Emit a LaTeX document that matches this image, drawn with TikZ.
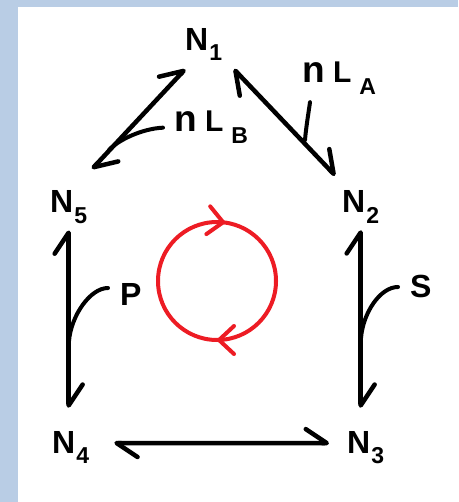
\documentclass[tikz,border=0pt]{standalone}
\usepackage{fontspec}
\setmainfont{Liberation Sans}
\usepackage{tikz}
\usetikzlibrary{arrows.meta, decorations.markings}

\definecolor{frameblue}{RGB}{185,205,229}
\definecolor{loopred}{RGB}{237,28,36}

\newcommand{\lowsub}[1]{\kern1pt\raisebox{-10pt}{\fontsize{23}{23}\selectfont #1}}
\newcommand{\labsub}[1]{\kern8pt\raisebox{-12pt}{\fontsize{23}{23}\selectfont #1}}
\newcommand{\bign}{{\fontsize{37}{37}\selectfont n}}

\begin{document}
\begin{tikzpicture}[x=1pt, y=-1pt,
    vertex/.style={anchor=base west, inner sep=0pt, font=\bfseries\fontsize{32}{32}\selectfont},
    tag/.style={anchor=base west, inner sep=0pt, font=\bfseries\fontsize{30}{30}\selectfont},
    link/.style={line width=4.5pt, line cap=round,
        {Straight Barb[left, length=21pt, width=28pt, round]}-{Straight Barb[left, length=21pt, width=28pt, round]}},
    lead/.style={line width=4pt, line cap=round},
    flow/.style={draw=loopred, line width=4pt, postaction={decorate}, decoration={markings,
        mark=at position 0.228 with {\arrowreversed{Straight Barb[length=15pt, width=28pt, round]}},
        mark=at position 0.75 with {\arrowreversed{Straight Barb[length=15pt, width=28pt, round]}}}}]
    \useasboundingbox (0,0) rectangle (458,502);
    \fill [frameblue] (0,0) rectangle (18,502);
    \fill [frameblue] (0,0) rectangle (458,7);

    % the five N
    \node [vertex] (n1) at (185,51) {N\lowsub{1}};
    \node [vertex] (n2) at (342,213) {N\lowsub{2}};
    \node [vertex] (n3) at (347,453) {N\lowsub{3}};
    \node [vertex] (n4) at (52,453) {N\lowsub{4}};
    \node [vertex] (n5) at (50,213) {N\lowsub{5}};

    % labels of the links
    \node [tag] (lA) at (302,83) {\bign\ L\labsub{A}};
    \node [tag] (lB) at (174,132) {\bign\ L\labsub{B}};
    \node [vertex] (p) at (120,305) {P};
    \node [vertex] (s) at (410,297) {S};

    \draw [link, shorten <=30pt, shorten >=11pt] ([xshift=3pt]n5.north) -- ([xshift=-11pt]n1.south);
    \draw [link, shorten <=11pt, shorten >=21pt] ([xshift=4pt]n1.south east) -- ([xshift=-11pt]n2.north);
    \draw [link, shorten <=7pt, shorten >=23pt] (n2.south) -- ([xshift=-5pt]n3.north);
    \draw [link, shorten <=25pt, shorten >=18pt] ([yshift=4pt]n4.east) -- ([yshift=4pt]n3.west);
    \draw [link, shorten <=7pt, shorten >=23pt] (n5.south) -- ([xshift=-2pt]n4.north);

    % leaders from the labels
    \coordinate (fA) at (305,140);
    \coordinate (fB) at (109,150);
    \coordinate (fP) at (69,341);
    \coordinate (fS) at (361,338);
    \draw [lead] ([shift={(8,7)}]lA.south west) .. controls +(-2,14) and +(1,-12) .. (fA);
    \draw [lead] ([shift={(-11,0)}]lB.west) .. controls +(-22,1) and +(8,-9) .. (fB);
    \draw [lead] ([shift={(-12,-6)}]p.west) .. controls +(-18,0) and +(2,-25) .. (fP);
    \draw [lead] ([shift={(-12,1)}]s.west) .. controls +(-18,0) and +(2,-25) .. (fS);

    % the red cycle
    \coordinate (c) at (217,281);
    \draw [flow] (c) circle (59pt);
\end{tikzpicture}
\end{document}
